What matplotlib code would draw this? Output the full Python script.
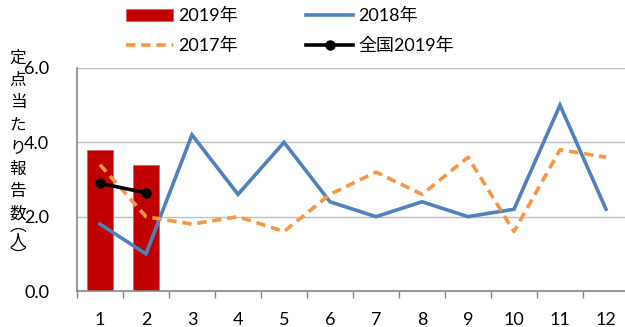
import matplotlib
matplotlib.use("Agg")
import matplotlib.pyplot as plt
import numpy as np

plt.rcParams['font.family'] = ['Lato', 'Noto Sans CJK JP', 'DejaVu Sans']

months = [1, 2, 3, 4, 5, 6, 7, 8, 9, 10, 11, 12]
month_labels = [str(m) for m in months]

bars_2019 = [3.8, 3.4]
national_2019 = [2.9, 2.64]
line_2018 = [1.8, 1.0, 4.2, 2.6, 4.0, 2.4, 2.0, 2.4, 2.0, 2.2, 5.0, 2.2]
line_2017 = [3.4, 2.0, 1.8, 2.0, 1.6, 2.6, 3.2, 2.6, 3.6, 1.6, 3.8, 3.6]

y_ticks = [0.0, 2.0, 4.0, 6.0]
y_label = "定点当たり報告数︵人︶"

fig = plt.figure(figsize=(6.25, 3.27), dpi=100)
ax = fig.add_axes([77 / 625, 36 / 327, 552 / 625, 223 / 327])

grid_c = '#BFBFBF'
axis_c = '#868686'

b = ax.bar(months[:len(bars_2019)], bars_2019, width=0.55, color='#C00000',
           edgecolor='#E06060', linewidth=0.6, zorder=2, label='2019年')
l18, = ax.plot(months, line_2018, color='#4F81BD', lw=2.6, zorder=3,
               solid_joinstyle='miter', label='2018年')
l17, = ax.plot(months, line_2017, color='#F79646', lw=2.6, zorder=4,
               dashes=(2.6, 1.6), label='2017年')
ln, = ax.plot(months[:len(national_2019)], national_2019, color='black', lw=2.6,
              marker='o', markersize=6.5, zorder=5, label='全国2019年')

ax.set_xlim(0.5, 12.5)
ax.set_ylim(0, 6.0)
ax.set_yticks(y_ticks)
ax.set_yticklabels([f"{v:.1f}" for v in y_ticks])
ax.yaxis.grid(True, color=grid_c, lw=1.0, zorder=0)
ax.set_axisbelow(True)

ax.set_xticks(months)
ax.set_xticklabels(month_labels)
ax.set_xticks(np.arange(0.5, 12.6, 1.0), minor=True)
ax.tick_params(axis='x', which='major', length=0, pad=15, labelsize=13)
ax.tick_params(axis='x', which='minor', length=5, width=1, color=axis_c, direction='out')
ax.tick_params(axis='y', length=0, pad=20, labelsize=13)

for s in ['top', 'right']:
    ax.spines[s].set_visible(False)
for s in ['left', 'bottom']:
    ax.spines[s].set_color(axis_c)
    ax.spines[s].set_linewidth(1.2)

# vertical axis title, one character per line; vertical brackets sit closer
label_y = [58 + 22.3 * i for i in range(8)] + [226, 241, 256]
for ch, y in zip(y_label, label_y):
    fig.text(18 / 625, 1 - y / 327, ch, ha='center', va='center', fontsize=12,
             family=['Noto Sans CJK JP', 'DejaVu Sans'])

fig.legend(handles=[b, l17, l18, ln], loc='center', ncol=2,
           bbox_to_anchor=(290 / 625, 1 - 31 / 327), frameon=False,
           fontsize=13, handlelength=2.6, columnspacing=3.8, handletextpad=0.3,
           labelspacing=0.75)

fig.savefig('out.png', dpi=100)
